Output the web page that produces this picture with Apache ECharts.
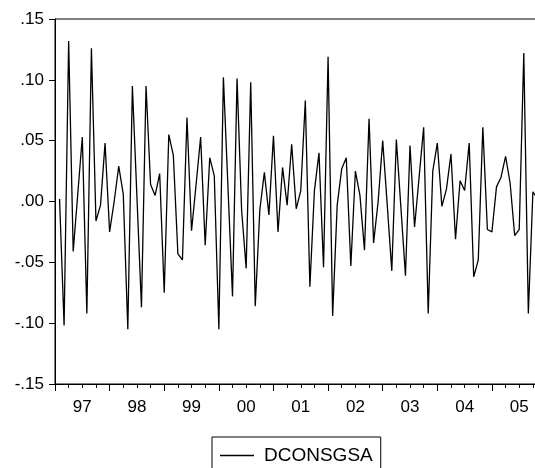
<!DOCTYPE html>
<html>
    <head>
        <meta charset="UTF-8">
        <script src="https://cdn.jsdelivr.net/npm/echarts@6/dist/echarts.min.js"></script>
        <style>
            html, body { margin: 0; padding: 0; background: #fff; }
            #main { width: 535px; height: 468px; }
        </style>
    </head>

    <body>
        <div id="main"></div>
    </body>

    <script>
        // monthly sample 1997M01 - 2005M12, first obs lost by differencing
        var years = [1997, 1998, 1999, 2000, 2001, 2002, 2003, 2004, 2005];
        var seriesName = "DCONSGSA";
        var dconsgsa = [
            null, 0.002, -0.102, 0.132, -0.041, 0.006, 0.053, -0.092, 0.126, -0.016, -0.003, 0.048,
            -0.025, 0.000, 0.029, 0.006, -0.105, 0.095, 0.004, -0.087, 0.095, 0.014, 0.005, 0.023,
            -0.075, 0.055, 0.038, -0.043, -0.048, 0.069, -0.024, 0.014, 0.053, -0.036, 0.036, 0.021,
            -0.105, 0.102, 0.012, -0.078, 0.101, -0.007, -0.055, 0.098, -0.086, -0.007, 0.024, -0.011,
            0.054, -0.025, 0.028, -0.003, 0.047, -0.006, 0.009, 0.083, -0.070, 0.009, 0.040, -0.054,
            0.119, -0.094, -0.003, 0.027, 0.036, -0.053, 0.025, 0.005, -0.040, 0.068, -0.034, 0.000,
            0.050, -0.003, -0.057, 0.051, -0.005, -0.061, 0.046, -0.021, 0.020, 0.061, -0.092, 0.025,
            0.048, -0.004, 0.010, 0.039, -0.031, 0.017, 0.009, 0.048, -0.062, -0.048, 0.061, -0.023,
            -0.025, 0.012, 0.020, 0.037, 0.015, -0.028, -0.023, 0.122, -0.092, 0.008, 0.002, 0.010
        ];
        var yTicks = [-0.15, -0.10, -0.05, 0.00, 0.05, 0.10, 0.15];

        var months = [];
        for (var y = 0; y < years.length; y++) {
            for (var m = 1; m <= 12; m++) {
                months.push(years[y] + "M" + (m < 10 ? "0" + m : m));
            }
        }

        function fmtY(v) {
            if (Math.abs(v) < 1e-9) return ".00";
            var s = Math.abs(v).toFixed(2).replace(/^0/, "");
            return (v < 0 ? "-" : "") + s;
        }

        var font = "Liberation Sans";
        var myChart = echarts.init(document.getElementById("main"));
        var option = {
            animation: false,
            backgroundColor: "#fff",
            grid: {
                left: 55, top: 19, width: 487, height: 365,
                show: true, borderColor: "#000", borderWidth: 1,
                containLabel: false, outerBoundsMode: "none"
            },
            legend: {
                data: [seriesName],
                left: 212, top: 437,
                padding: [9, 8, 12, 8],
                borderColor: "#000", borderWidth: 1,
                icon: "rect", itemWidth: 34, itemHeight: 1.3,
                textStyle: { fontFamily: font, fontSize: 19, color: "#000", padding: [0, 0, 0, 5] }
            },
            xAxis: [{
                type: "category",
                data: months,
                boundaryGap: false,
                axisLine: { onZero: false, lineStyle: { color: "#000", width: 1 } },
                axisTick: {
                    inside: false, length: 7,
                    interval: function (i) { return i % 12 === 0; },
                    lineStyle: { color: "#000" }
                },
                axisLabel: {
                    interval: function (i) { return i % 12 === 6; },
                    formatter: function (v) { return v.substr(2, 2); },
                    fontFamily: font, fontSize: 17, color: "#000", margin: 15
                },
                splitLine: { show: false }
            }, {
                type: "category",
                data: months,
                boundaryGap: false,
                position: "bottom",
                axisLine: { show: false, onZero: false },
                axisTick: {
                    inside: false, length: 4,
                    interval: function (i) { return i % 3 === 0; },
                    lineStyle: { color: "#000" }
                },
                axisLabel: { show: false },
                splitLine: { show: false }
            }],
            yAxis: {
                type: "value",
                min: yTicks[0],
                max: yTicks[yTicks.length - 1],
                interval: 0.05,
                axisLine: { show: true, onZero: false, lineStyle: { color: "#000", width: 1 } },
                axisTick: { show: true, inside: false, length: 6, lineStyle: { color: "#000" } },
                axisLabel: {
                    formatter: fmtY,
                    fontFamily: font, fontSize: 17, color: "#000", margin: 11
                },
                splitLine: { show: false }
            },
            series: [{
                name: seriesName,
                type: "line",
                data: dconsgsa,
                showSymbol: false,
                symbol: "none",
                lineStyle: { color: "#000", width: 1.3 },
                itemStyle: { color: "#000" }
            }]
        };
        myChart.setOption(option, true);
    </script>
</html>
